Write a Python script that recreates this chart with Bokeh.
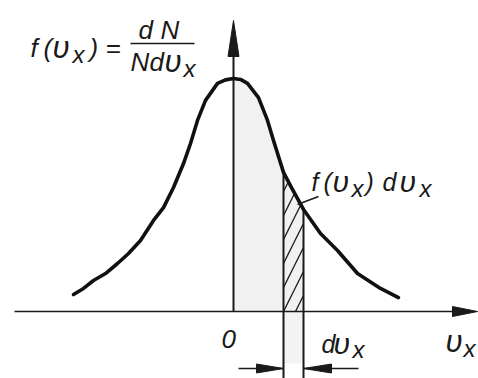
from bokeh.plotting import figure
from bokeh.models import Range1d, ColumnDataSource
from bokeh.core.properties import value
from bokeh.embed import file_html
from bokeh.resources import INLINE

# Distribution of the velocity component v_x (arbitrary units), f normalised to its peak
vx = [-3.20, -3.00, -2.80, -2.56, -2.32, -2.10, -1.86, -1.60, -1.40, -1.20,
      -1.00, -0.86, -0.72, -0.56, -0.32, -0.16, 0.00, 0.14, 0.28, 0.50,
      0.68, 0.80, 1.00, 1.16, 1.40, 1.74, 2.08, 2.48, 2.94, 3.30]
f_vx = [0.073, 0.099, 0.133, 0.163, 0.206, 0.249, 0.305, 0.391, 0.446, 0.532,
        0.635, 0.721, 0.820, 0.906, 0.979, 0.994, 1.000, 0.996, 0.979, 0.918,
        0.820, 0.734, 0.597, 0.532, 0.438, 0.335, 0.262, 0.163, 0.099, 0.060]

# The narrow interval dv_x whose area f(v_x) dv_x is hatched
dv_lo, dv_hi = 1.00, 1.40

INK = "#1a1a1a"
W, H = 478, 378

# canvas mapping: origin pixel and pixels per unit on each axis
X0, Y0 = 233, 311
SX, SY = 50.0, 233.0
TEXT_LIFT = 9  # the alphabetic baseline renders a little low


def ux(px):
    return (px - X0) / SX


def uy(py):
    return (Y0 - py) / SY


p = figure(width=W, height=H,
           x_range=Range1d(ux(0), ux(W)), y_range=Range1d(uy(H), uy(0)),
           output_backend="svg", toolbar_location=None,
           x_axis_type=None, y_axis_type=None, min_border=0,
           outline_line_color=None, background_fill_color="white",
           border_fill_color="white")
p.grid.visible = False

# light shading under the curve from 0 up to the start of the interval
sx = [v for v in vx if 0 <= v <= dv_lo]
sf = [f for v, f in zip(vx, f_vx) if 0 <= v <= dv_lo]
p.varea(x=sx, y1=[0] * len(sx), y2=sf, fill_color="#f1f1f1")

# hatched strip f(v_x) dv_x
hx = [v for v in vx if dv_lo <= v <= dv_hi]
hf = [f for v, f in zip(vx, f_vx) if dv_lo <= v <= dv_hi]
p.varea(x=hx, y1=[0] * len(hx), y2=hf, fill_color="#f1f1f1",
        hatch_pattern="/", hatch_color=INK, hatch_weight=1.3, hatch_scale=24)

# faint band of the interval below the axis
p.quad(left=[dv_lo], right=[dv_hi], bottom=[uy(363)], top=[0],
       fill_color="#f3f3f3", line_color=None)

# axes
p.segment(x0=[ux(14)], y0=[0], x1=[ux(462)], y1=[0], line_color=INK, line_width=1.6)
p.segment(x0=[0], y0=[0], x1=[0], y1=[uy(45)], line_color=INK, line_width=2)


def head(tip_x, tip_y, back_x, back_y, half_px, horizontal):
    """Narrow filled arrow head from tip back to a base of half-width half_px."""
    if horizontal:
        d = half_px / SY
        return [tip_x, back_x, back_x], [tip_y, back_y + d, back_y - d]
    d = half_px / SX
    return [tip_x, back_x + d, back_x - d], [tip_y, back_y, back_y]


heads = [
    head(ux(477), 0, ux(452), 0, 5, True),          # v_x axis
    head(0, uy(20), 0, uy(56), 5.5, False),         # f axis
    head(dv_lo, uy(368), ux(256), uy(368), 4.5, True),
    head(dv_hi, uy(368), ux(331), uy(368), 4.5, True),
]
p.patches(xs=[h[0] for h in heads], ys=[h[1] for h in heads],
          fill_color=INK, line_color=INK, line_width=1)

# dv_x dimension arrows
p.segment(x0=[ux(238), ux(358)], y0=[uy(368)] * 2,
          x1=[dv_lo, dv_hi], y1=[uy(368)] * 2, line_color=INK, line_width=1.4)

# interval boundaries, running from the curve down past the axis
p.segment(x0=[dv_lo, dv_hi], y0=[uy(H), uy(H)], x1=[dv_lo, dv_hi], y1=[hf[0], hf[-1]],
          line_color=INK, line_width=2)

# the distribution curve
p.line(vx, f_vx, line_color="#111111", line_width=3.6, line_join="round", line_cap="round")

# leader from the area label to the strip, and the fraction bar
p.segment(x0=[ux(297), ux(130)], y0=[uy(204), uy(43)],
          x1=[ux(318), ux(194)], y1=[uy(196), uy(43)],
          line_color=INK, line_width=1.5)

# labels, each glyph group placed on its own (left edge, baseline, size)
pieces = [
    ("f", 30, 56, 26), ("(", 43, 56, 26), ("υ", 52, 56, 31), ("x", 72, 63, 24),
    (")", 89, 56, 26), ("=", 105, 56, 26),
    ("d", 138, 38, 26), ("N", 160, 38, 26),
    ("N", 130, 70, 26), ("d", 149, 70, 26), ("υ", 164, 70, 31), ("x", 183, 77, 24),
    ("0", 221, 347, 26),
    ("f", 311, 190, 25), ("(", 323, 190, 25), ("υ", 332, 190, 30), ("x", 351, 197, 24),
    (")", 365, 190, 25), ("d", 382, 190, 25), ("υ", 399, 190, 30), ("x", 419, 197, 24),
    ("d", 321, 352, 25), ("υ", 333, 352, 30), ("x", 352, 358, 24),
    ("υ", 445, 350, 31), ("x", 463, 357, 24),
]
src = ColumnDataSource(dict(
    x=[ux(a[1]) for a in pieces],
    y=[uy(a[2] - TEXT_LIFT) for a in pieces],
    text=[a[0] for a in pieces],
    size=["%dpx" % a[3] for a in pieces],
))
p.text(x="x", y="y", text="text", source=src, text_font=value("Liberation Sans"),
       text_font_style="italic", text_font_size="size", text_color=INK,
       text_align="left", text_baseline="alphabetic")

open("out.html", "w").write(file_html(p, INLINE))
